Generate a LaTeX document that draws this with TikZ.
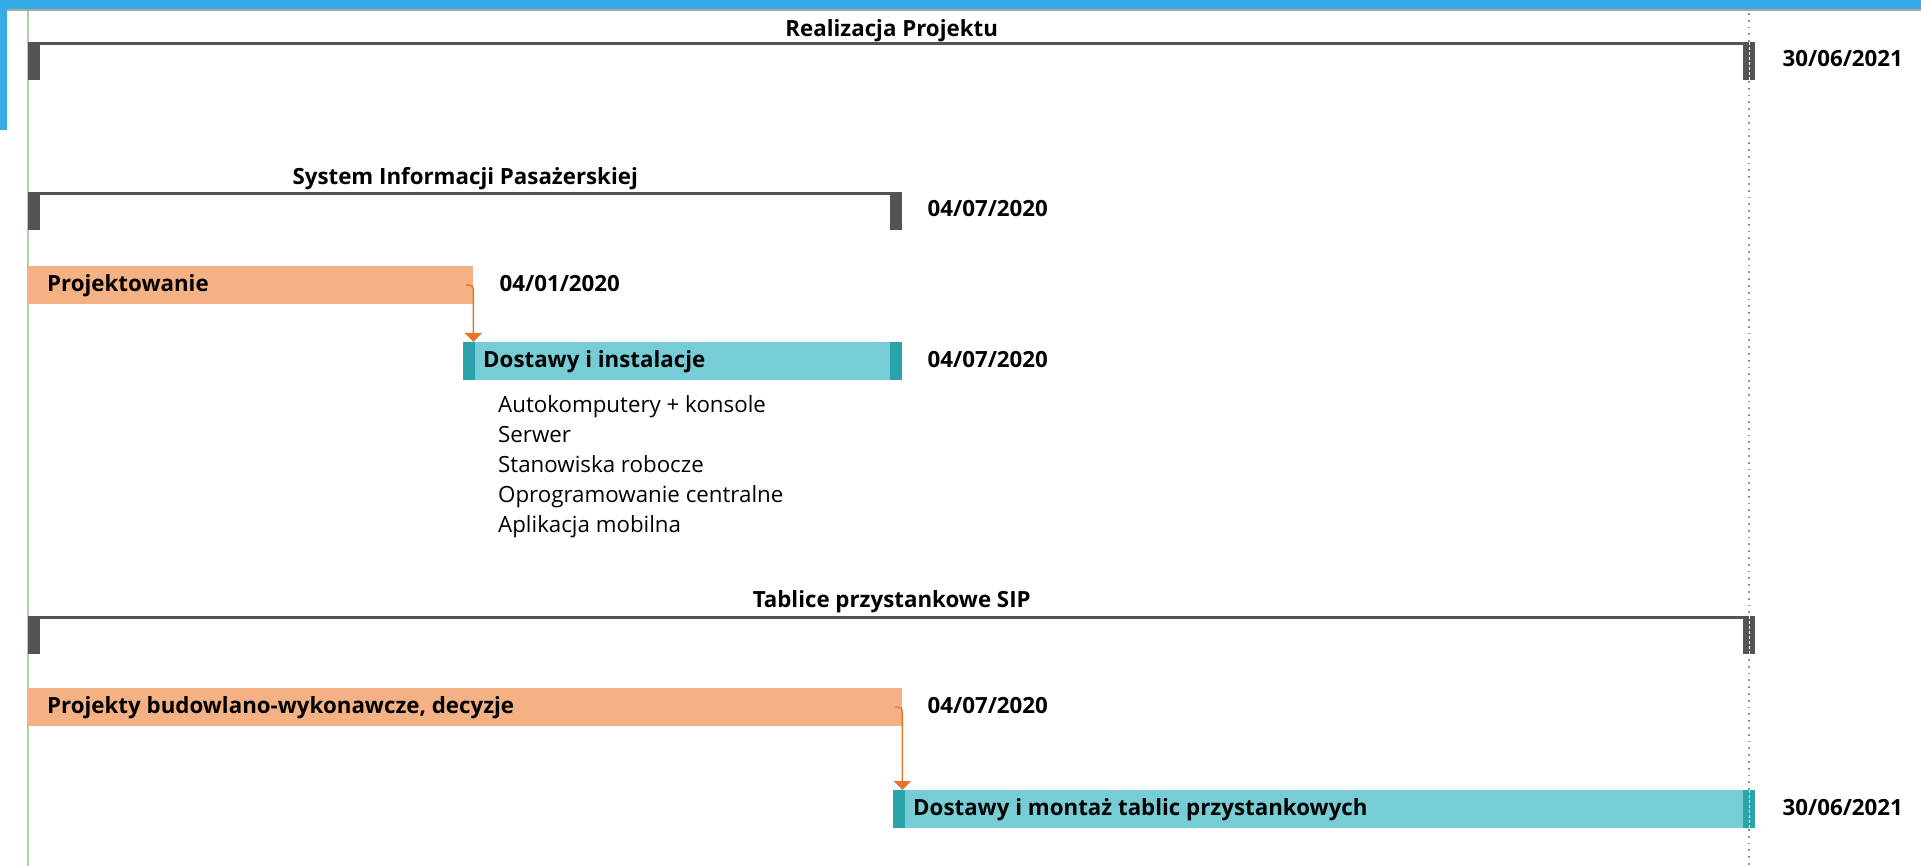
\documentclass[tikz,border=0pt]{standalone}
\usepackage{fontspec}
\setmainfont{Open Sans}
\usetikzlibrary{positioning,calc,arrows.meta}

\definecolor{topblue}{RGB}{52,170,231}
\definecolor{sumgray}{RGB}{84,84,84}
\definecolor{barorange}{RGB}{244,177,131}
\definecolor{barteal}{RGB}{118,205,213}
\definecolor{tealdark}{RGB}{42,163,171}
\definecolor{linkorange}{RGB}{226,118,45}
\definecolor{todaygreen}{RGB}{169,213,160}
\definecolor{dotgray}{RGB}{150,150,150}

\tikzset{
  sumbar/.style={anchor=north west, inner sep=0pt, minimum height=38pt,
    path picture={
      \fill[sumgray] (path picture bounding box.north west) rectangle ([yshift=-3pt]path picture bounding box.north east);
      \fill[sumgray] (path picture bounding box.north west) rectangle ([xshift=12pt]path picture bounding box.south west);
      \fill[sumgray] (path picture bounding box.north east) rectangle ([xshift=-12pt]path picture bounding box.south east);
    }},
  taskbar/.style={anchor=north west, inner sep=0pt, minimum height=38pt},
  design/.style={taskbar, fill=barorange},
  install/.style={taskbar, fill=barteal,
    path picture={
      \fill[tealdark] (path picture bounding box.north west) rectangle ([xshift=12pt]path picture bounding box.south west);
      \fill[tealdark] (path picture bounding box.north east) rectangle ([xshift=-12pt]path picture bounding box.south east);
    }},
  boldtext/.style={font=\fontsize{22.3}{30}\selectfont\bfseries, inner sep=0pt, text height=12pt, text depth=0pt},
  bartext/.style={boldtext, anchor=west},
  datetext/.style={boldtext, anchor=west},
  listtext/.style={font=\fontsize{22.3}{30}\selectfont, anchor=north west, align=left, inner sep=0pt},
  link/.style={draw=linkorange, line width=1.4pt, rounded corners=4pt, -{Triangle[width=17pt,length=9pt]}},
  dotline/.style={draw=dotgray, line width=1.8pt, dash pattern=on 1.8pt off 5pt},
  capdash/.style={draw=white, line width=1.4pt, dash pattern=on 3pt off 2pt}
}

\begin{document}
\begin{tikzpicture}[x=1pt, y=-1pt]
\useasboundingbox (0,0) rectangle (1921,866);

% window frame and timeline
\fill[topblue] (0,0) rectangle (1921,9);
\draw[gray!70, line width=1.5pt] (0,10) -- (1921,10);
\fill[topblue] (0,0) rectangle (7,130);
\draw[todaygreen, line width=2pt] (28,11) -- (28,866);
\draw[dotline] (1749,13) -- (1749,866);

% Realizacja Projektu
\node[sumbar, minimum width=1727pt] (real) at (28,42) {};
\node[boldtext, above=5pt of real.north] (realt) {Realizacja Projektu};
\node[datetext, right=27pt of real.north east, yshift=-18.5pt] (reald) {30/06/2021};

% System Informacji Pasazerskiej
\node[sumbar, minimum width=874pt] (sip) at (28,192) {};
\node[boldtext, above=7pt of sip.north] (sipt) {System Informacji Pasażerskiej};
\node[datetext, right=25pt of sip.north east, yshift=-19pt] (sipd) {04/07/2020};

\node[design, minimum width=445pt] (proj) at (28,266) {};
\node[bartext, right=19pt of proj.west] (projt) {Projektowanie};
\node[datetext, right=26pt of proj.east] (projd) {04/01/2020};

\node[install, minimum width=439pt] (dost) at (463,342) {};
\node[bartext, right=20pt of dost.west] (dostt) {Dostawy i instalacje};
\node[datetext, right=25pt of dost.east] (dostd) {04/07/2020};
\node[listtext] (items) at ($(dost.south west)+(35,15)$) {Autokomputery + konsole\\Serwer\\Stanowiska robocze\\Oprogramowanie centralne\\Aplikacja mobilna};

\draw[link] ([xshift=-7pt]proj.east) -| (proj.east |- dost.north);

% Tablice przystankowe SIP
\node[sumbar, minimum width=1727pt] (tab) at (28,616) {};
\node[boldtext, above=8pt of tab.north] (tabt) {Tablice przystankowe SIP};

\node[design, minimum width=874pt] (projb) at (28,688) {};
\node[bartext, right=19pt of projb.west] (projbt) {Projekty budowlano-wykonawcze, decyzje};
\node[datetext, right=25pt of projb.east] (projbd) {04/07/2020};

\node[install, minimum width=862pt] (dostm) at (893,790) {};
\node[bartext, right=20pt of dostm.west] (dostmt) {Dostawy i montaż tablic przystankowych};
\node[datetext, right=27pt of dostm.east] (dostmd) {30/06/2021};

\draw[link] ([xshift=-7pt]projb.east) -| (projb.east |- dostm.north);

\foreach \b in {real,tab,dostm}
  \draw[capdash] ([xshift=-6pt]\b.north east) -- ([xshift=-6pt]\b.south east);

\end{tikzpicture}
\end{document}
